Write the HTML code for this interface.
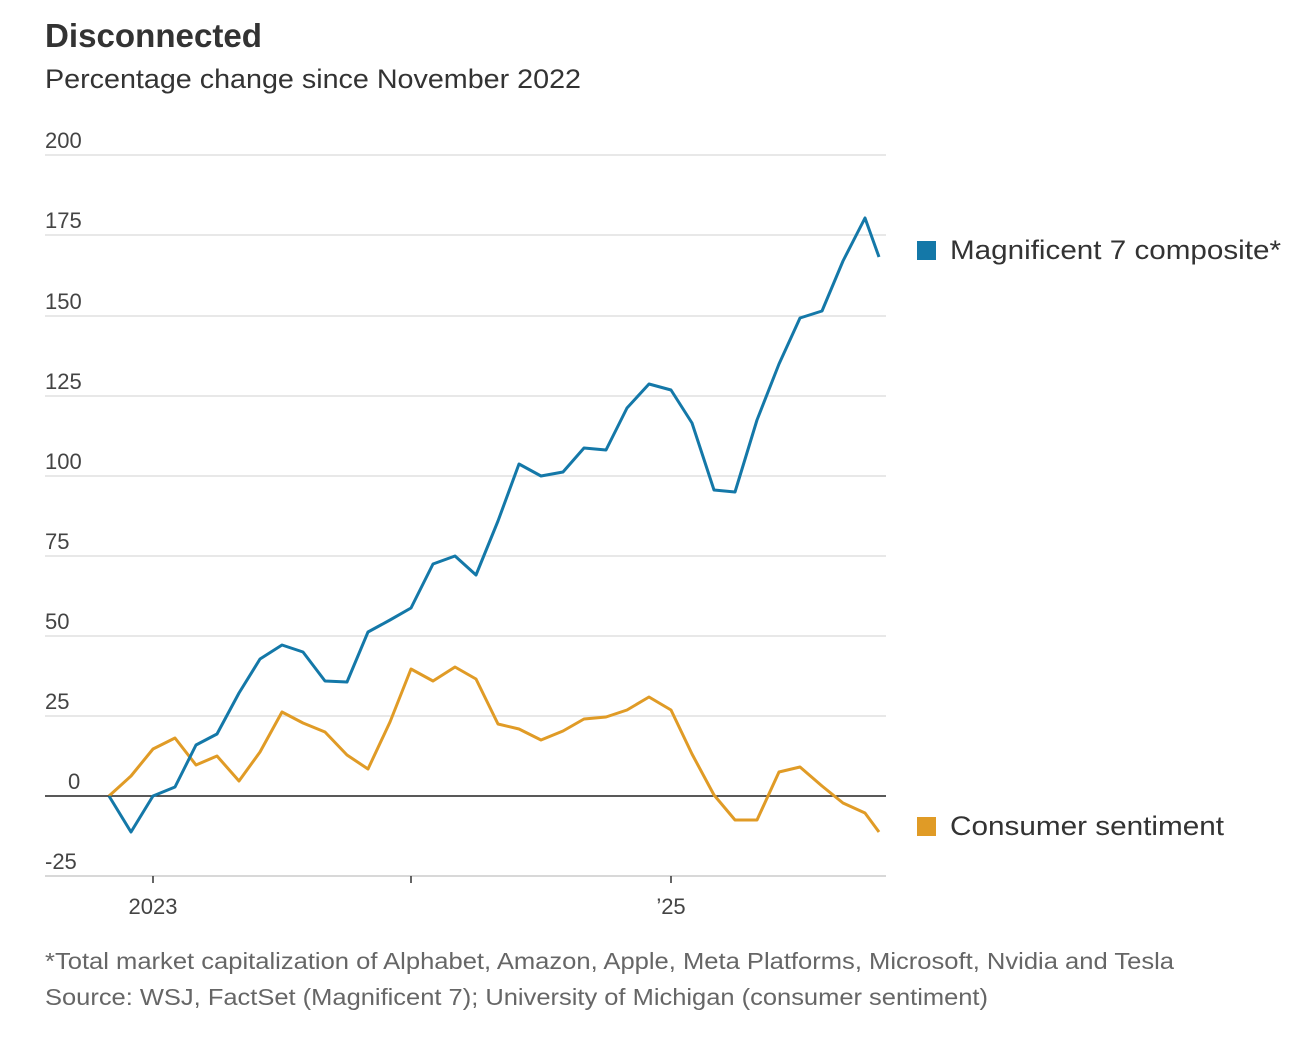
<!DOCTYPE html>
<html><head><meta charset="utf-8"><style>
body{margin:0;background:#fff;width:1310px;height:1038px;overflow:hidden;font-family:"Liberation Sans",sans-serif;}
svg{position:absolute;left:0;top:0}
</style></head><body>
<svg width="1310" height="1038" xmlns="http://www.w3.org/2000/svg" font-family="Liberation Sans, sans-serif">
<text x="45" y="47" font-size="33" font-weight="bold" fill="#333" textLength="217" lengthAdjust="spacingAndGlyphs">Disconnected</text>
<text x="45" y="88" font-size="27" fill="#333" textLength="536" lengthAdjust="spacingAndGlyphs">Percentage change since November 2022</text>
<g stroke="#e0e0e0" stroke-width="1.5">
<line x1="45" x2="886" y1="155" y2="155"/><line x1="45" x2="886" y1="235" y2="235"/>
<line x1="45" x2="886" y1="316" y2="316"/><line x1="45" x2="886" y1="396" y2="396"/>
<line x1="45" x2="886" y1="476" y2="476"/><line x1="45" x2="886" y1="556" y2="556"/>
<line x1="45" x2="886" y1="636" y2="636"/><line x1="45" x2="886" y1="716" y2="716"/>
</g>
<line x1="45" x2="886" y1="876" y2="876" stroke="#ccc" stroke-width="1.5"/>
<line x1="45" x2="886" y1="796" y2="796" stroke="#222" stroke-width="1.5"/>
<g stroke="#333" stroke-width="1.5"><line x1="153" x2="153" y1="876" y2="883"/><line x1="411" x2="411" y1="876" y2="883"/><line x1="671" x2="671" y1="876" y2="883"/></g>
<g font-size="22" fill="#444">
<text x="45" y="148">200</text><text x="45" y="228">175</text><text x="45" y="309">150</text>
<text x="45" y="389">125</text><text x="45" y="469">100</text><text x="45" y="549">75</text>
<text x="45" y="629">50</text><text x="45" y="709">25</text><text x="68" y="789">0</text>
<text x="45" y="869">-25</text>
<text x="153" y="914" text-anchor="middle">2023</text><text x="671" y="914" text-anchor="middle">’25</text>
</g>
<polyline fill="none" stroke="#e09b26" stroke-width="3" stroke-linejoin="round" points="109,796 131,776 153,749 175,738 196,765 217,756 239,781 260,752 282,712 303,723 325,732 347,755 368,769 390,722 411,669 433,681 455,667 476,679 498,724 519,729 541,740 563,731 584,719 606,717 627,710 649,697 671,710 692,754 714,795 735,820 757,820 779,772 800,767 822,786 843,803 865,813 879,832"/>
<polyline fill="none" stroke="#1478a8" stroke-width="3" stroke-linejoin="round" points="109,796 131,832 153,796 175,787 196,745 217,734 239,693 260,659 282,645 303,652 325,681 347,682 368,632 390,620 411,608 433,564 455,556 476,575 498,521 519,464 541,476 563,472 584,448 606,450 627,408 649,384 671,390 692,423 714,490 735,492 757,420 779,364 800,318 822,311 843,261 865,218 879,257"/>
<rect x="917" y="241" width="19" height="19" fill="#1478a8"/>
<text x="950" y="259" font-size="27" fill="#333" textLength="331" lengthAdjust="spacingAndGlyphs">Magnificent 7 composite*</text>
<rect x="917" y="817" width="19" height="19" fill="#e09b26"/>
<text x="950" y="835" font-size="27" fill="#333" textLength="274" lengthAdjust="spacingAndGlyphs">Consumer sentiment</text>
<text x="45" y="969" font-size="23" fill="#666" textLength="1129" lengthAdjust="spacingAndGlyphs">*Total market capitalization of Alphabet, Amazon, Apple, Meta Platforms, Microsoft, Nvidia and Tesla</text>
<text x="45" y="1005" font-size="23" fill="#666" textLength="943" lengthAdjust="spacingAndGlyphs">Source: WSJ, FactSet (Magnificent 7); University of Michigan (consumer sentiment)</text>
</svg>
</body></html>
